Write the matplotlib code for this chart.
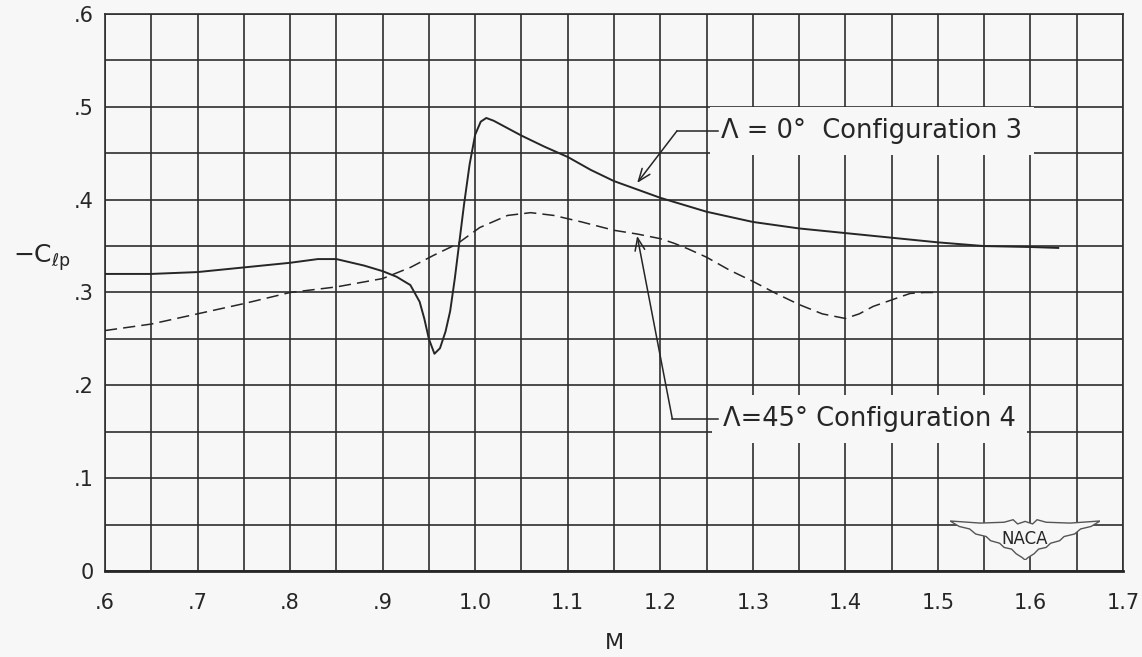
import matplotlib
matplotlib.use("Agg")
import matplotlib.pyplot as plt
from matplotlib.ticker import MultipleLocator, FixedLocator, FixedFormatter
from matplotlib.patches import Polygon

# ---------------- data ----------------
mach_cfg3 = [0.60, 0.65, 0.70, 0.75, 0.80, 0.83, 0.85, 0.88, 0.90, 0.915,
             0.93, 0.94, 0.945, 0.95, 0.956, 0.962, 0.968, 0.973, 0.978,
             0.983, 0.988, 0.994, 1.000, 1.006, 1.012, 1.020, 1.035, 1.050,
             1.075, 1.10, 1.125, 1.15, 1.175, 1.20, 1.25, 1.30, 1.35, 1.40,
             1.45, 1.50, 1.55, 1.60, 1.63]
clp_cfg3 = [0.320, 0.320, 0.322, 0.327, 0.332, 0.336, 0.336, 0.329, 0.323, 0.317,
            0.308, 0.290, 0.272, 0.250, 0.234, 0.240, 0.258, 0.280, 0.315,
            0.355, 0.395, 0.438, 0.470, 0.484, 0.488, 0.485, 0.477, 0.469,
            0.457, 0.446, 0.432, 0.420, 0.411, 0.402, 0.387, 0.376, 0.369, 0.364,
            0.359, 0.354, 0.350, 0.349, 0.348]

mach_cfg4 = [0.60, 0.65, 0.70, 0.75, 0.80, 0.85, 0.90, 0.93, 0.955, 0.98,
             1.005, 1.035, 1.06, 1.085, 1.115, 1.15, 1.175, 1.20, 1.215, 1.23,
             1.25, 1.275, 1.30, 1.325, 1.35, 1.375, 1.40, 1.415, 1.43, 1.45,
             1.47, 1.485, 1.50]
clp_cfg4 = [0.259, 0.266, 0.277, 0.288, 0.300, 0.306, 0.315, 0.327, 0.340, 0.352,
            0.370, 0.383, 0.386, 0.383, 0.376, 0.367, 0.363, 0.358, 0.353, 0.347,
            0.338, 0.324, 0.312, 0.299, 0.287, 0.277, 0.272, 0.277, 0.285, 0.292,
            0.299, 0.300, 0.300]

x_ticks = [0.6, 0.7, 0.8, 0.9, 1.0, 1.1, 1.2, 1.3, 1.4, 1.5, 1.6, 1.7]
x_tick_labels = [".6", ".7", ".8", ".9", "1.0", "1.1", "1.2", "1.3", "1.4", "1.5", "1.6", "1.7"]
y_ticks = [0.0, 0.1, 0.2, 0.3, 0.4, 0.5, 0.6]
y_tick_labels = ["0", ".1", ".2", ".3", ".4", ".5", ".6"]

label_cfg3 = "Λ = 0°  Configuration 3"
label_cfg4 = "Λ=45° Configuration 4"

# ---------------- style ----------------
BG = "#f7f7f7"
INK = "#262626"
GRID = "#2e2e2e"
plt.rcParams["font.family"] = ["DejaVu Sans"]
plt.rcParams["mathtext.fontset"] = "dejavusans"

fig = plt.figure(figsize=(11.42, 6.57), dpi=100, facecolor=BG)
ax = fig.add_axes([0.0919, 0.1309, 0.8915, 0.8478], facecolor=BG)

ax.set_xlim(0.6, 1.7)
ax.set_ylim(0.0, 0.6)

ax.xaxis.set_major_locator(FixedLocator(x_ticks))
ax.xaxis.set_major_formatter(FixedFormatter(x_tick_labels))
ax.yaxis.set_major_locator(FixedLocator(y_ticks))
ax.yaxis.set_major_formatter(FixedFormatter(y_tick_labels))
ax.xaxis.set_minor_locator(MultipleLocator(0.05))
ax.yaxis.set_minor_locator(MultipleLocator(0.05))
ax.grid(True, which="both", color=GRID, lw=1.2, zorder=0)
ax.set_axisbelow(True)
ax.tick_params(which="both", length=0)
ax.tick_params(axis="x", pad=16, labelsize=15, colors=INK)
ax.tick_params(axis="y", pad=8, labelsize=15, colors=INK)
for s in ["left", "right", "top"]:
    ax.spines[s].set_color(GRID)
    ax.spines[s].set_linewidth(1.2)
ax.spines["bottom"].set_color(INK)
ax.spines["bottom"].set_linewidth(2.0)

ax.plot(mach_cfg3, clp_cfg3, color=INK, lw=1.4, zorder=3)
ax.plot(mach_cfg4, clp_cfg4, color=INK, lw=1.1, ls=(0, (8, 4)), zorder=3)

ax.set_xlabel("M", fontsize=16, color=INK, labelpad=14)
ax.set_ylabel(r"$-\mathrm{C}_{\ell\mathrm{p}}$", fontsize=18, color=INK, rotation=0)
ax.yaxis.set_label_coords(-0.062, 0.535)

# ---------------- annotations ----------------
txt_kw = dict(fontsize=18.5, color=INK, va="center", ha="left", zorder=5,
              bbox=dict(facecolor=BG, edgecolor="none", pad=8))
arrow_kw = dict(arrowstyle="->,head_length=0.9,head_width=0.35", color=INK, lw=1.1,
                shrinkA=0, shrinkB=0)

# configuration 3 label
ax.text(1.266, 0.474, label_cfg3, **txt_kw)
ax.plot([1.218, 1.262], [0.474, 0.474], color=INK, lw=1.1, zorder=6)
ax.annotate("", xy=(1.175, 0.418), xytext=(1.218, 0.474), arrowprops=arrow_kw, zorder=6)

# configuration 4 label
ax.text(1.268, 0.164, label_cfg4, **txt_kw)
ax.plot([1.213, 1.262], [0.164, 0.164], color=INK, lw=1.1, zorder=6)
ax.annotate("", xy=(1.175, 0.361), xytext=(1.213, 0.164), arrowprops=arrow_kw, zorder=6)

# ---------------- NACA wings logo ----------------
lax = fig.add_axes([0.832, 0.1476, 0.1313, 0.0639], facecolor="none")
lax.set_xlim(0, 1)
lax.set_ylim(0, 1)
lax.axis("off")
half = [(0.0, 0.93), (0.06, 0.80), (0.13, 0.74), (0.17, 0.62), (0.24, 0.56),
        (0.27, 0.46), (0.33, 0.40), (0.36, 0.30), (0.41, 0.26), (0.44, 0.15),
        (0.48, 0.06), (0.5, 0.0)]
top_half = [(0.5, 0.92), (0.45, 0.86), (0.42, 0.96), (0.36, 0.90), (0.2, 0.88), (0.0, 0.93)]
right = [(1 - x, y) for x, y in reversed(half)]
right_top = [(1 - x, y) for x, y in reversed(top_half)]
outline = half + right[1:] + right_top[1:] + top_half[1:]
lax.add_patch(Polygon(outline, closed=True, facecolor=BG, edgecolor="#555555", lw=1.0))
lax.text(0.5, 0.5, "NACA", ha="center", va="center", fontsize=12, color=INK)

fig.savefig("out.png", dpi=100, facecolor=BG)
